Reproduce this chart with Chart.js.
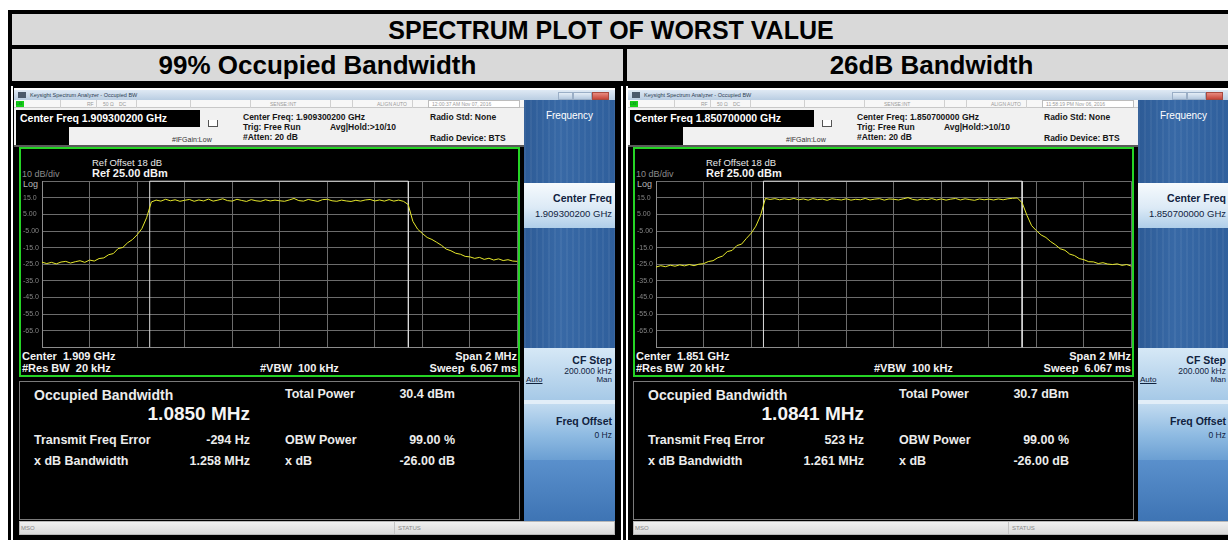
<!DOCTYPE html>
<html>
<head>
<meta charset="utf-8">
<title>Spectrum plot of worst value</title>
<script src="https://cdn.jsdelivr.net/npm/chart.js@4.4.1/dist/chart.umd.min.js"></script>
<style>
  * { box-sizing: border-box; }
  body { margin: 0; width: 1228px; height: 540px; overflow: hidden; background: #fff; position: relative;
         font-family: "Liberation Sans", Arial, sans-serif; }
  .a { position: absolute; white-space: pre; }
  .a b { display: block; }
  .hdr { background: #d9d9d9; font-weight: bold; color: #000; text-align: center; }
  .skDark { background: repeating-linear-gradient(90deg, rgba(255,255,255,0.05) 0 2px, rgba(0,0,0,0) 2px 6px),
                        linear-gradient(90deg, #2d5b96, #3869a6 40%, #2f5f9c); }
  .skLight { background: linear-gradient(#f6fafd, #dceaf6 55%, #afcee9); }
  .skStep { background: linear-gradient(#d6e8f6, #a6c9e7); }
  .skOff { background: linear-gradient(#c2dbf0, #8fbbe2 55%, #6b9fd3); }
  .skLow { background: linear-gradient(#5a90cc, #3e74b4); }
</style>
</head>
<body>
<script>
// Frequency offset from centre (MHz), span 2 MHz
const freqOffsets = [
  -1.00, -0.98, -0.96, -0.94, -0.92, -0.90, -0.88, -0.86, -0.84, -0.82,
  -0.80, -0.78, -0.76, -0.74, -0.72, -0.70, -0.68, -0.66, -0.64, -0.62,
  -0.60, -0.58, -0.56, -0.54, -0.52, -0.50, -0.48, -0.46, -0.44, -0.42,
  -0.40, -0.38, -0.36, -0.34, -0.32, -0.30, -0.28, -0.26, -0.24, -0.22,
  -0.20, -0.18, -0.16, -0.14, -0.12, -0.10, -0.08, -0.06, -0.04, -0.02,
   0.00,  0.02,  0.04,  0.06,  0.08,  0.10,  0.12,  0.14,  0.16,  0.18,
   0.20,  0.22,  0.24,  0.26,  0.28,  0.30,  0.32,  0.34,  0.36,  0.38,
   0.40,  0.42,  0.44,  0.46,  0.48,  0.50,  0.52,  0.54,  0.56,  0.58,
   0.60,  0.62,  0.64,  0.66,  0.68,  0.70,  0.72,  0.74,  0.76,  0.78,
   0.80,  0.82,  0.84,  0.86,  0.88,  0.90,  0.92,  0.94,  0.96,  0.98,
   1.00
];

// Trace levels (dBm) - 99% occupied bandwidth plot
const obwTraceLevels = [
  -23.8, -24.6, -23.9, -24.8, -23.7, -23.3, -24.3, -23.5, -22.9, -23.9,
  -22.5, -23.1, -21.6, -21.2, -19.3, -18.6, -15.6, -14.9, -12.1, -10.2,
   -7.3,  -3.6,   3.0,  12.5,  13.6,  13.0,  14.1,  13.2,  13.8,  12.9,
   13.5,  14.0,  12.9,  13.7,  13.1,  14.2,  13.0,  13.6,  14.4,  13.3,
   13.0,  14.1,  13.4,  12.8,  13.9,  13.2,  12.9,  13.8,  13.1,  13.6,
   13.2,  12.9,  13.7,  14.6,  13.3,  13.0,  14.0,  13.4,  12.8,  13.9,
   14.1,  13.2,  12.9,  13.6,  13.1,  12.8,  13.5,  13.0,  13.7,  14.0,
   13.1,  13.7,  13.0,  13.9,  13.0,  13.6,  12.9,  11.0,   0.8,  -3.9,
   -6.5,  -8.9, -10.1, -11.8, -13.6, -15.9, -16.9, -18.4, -19.0, -20.3,
  -20.6, -21.5, -20.9, -22.1, -21.4, -22.5, -21.8, -22.8, -22.3, -23.1,
  -23.3
];

// Trace levels (dBm) - 26 dB bandwidth plot
const xdbTraceLevels = [
  -26.7, -25.9, -26.5, -25.6, -26.2, -25.4, -26.0, -25.2, -25.9, -25.0,
  -24.7, -23.4, -22.9, -21.1, -20.1, -17.4, -16.7, -13.8, -12.9,  -9.5,
   -6.4,  -2.1,   4.4,  14.6,  14.0,  14.5,  13.8,  14.4,  13.9,  14.6,
   13.8,  14.3,  13.6,  14.5,  13.9,  14.2,  13.5,  14.4,  14.0,  13.7,
   14.4,  13.6,  14.1,  13.8,  14.6,  13.7,  14.2,  14.5,  13.6,  14.3,
   14.1,  13.7,  14.4,  15.1,  14.0,  13.6,  14.3,  13.8,  14.5,  13.7,
   14.3,  13.6,  14.2,  14.6,  13.7,  14.4,  13.9,  13.5,  14.3,  13.8,
   14.2,  13.7,  14.3,  13.8,  14.4,  14.7,  14.9,  12.0,   4.5,  -1.8,
   -4.8,  -7.4,  -8.9, -11.4, -13.3, -15.7, -16.6, -18.9, -19.8, -21.6,
  -22.3, -23.5, -23.6, -24.6, -24.1, -24.9, -25.2, -24.8, -25.7, -25.2,
  -26.2
];

// Occupied bandwidth gate edges (MHz from centre)
const obwGateEdges = [-0.547, 0.541];
const xdbGateEdges = [-0.548, 0.540];

// Amplitude axis: Ref 25 dBm, 10 dB/div, 10 divisions
const refLevel = 25;
const bottomLevel = -75;
const dbPerDiv = 10;

const screens = [
  { dx: 0, canvasId: 'plotObw', levels: obwTraceLevels, edges: obwGateEdges,
    time: '12:00:37 AM Nov 07, 2016', cf: '1.909300200 GHz', center: '1.909 GHz',
    obw: '1.0850 MHz', power: '30.4 dBm', err: '-294 Hz', xdbBw: '1.258 MHz' },
  { dx: 614, canvasId: 'plotXdb', levels: xdbTraceLevels, edges: xdbGateEdges,
    time: '11:58:19 PM Nov 06, 2016', cf: '1.850700000 GHz', center: '1.851 GHz',
    obw: '1.0841 MHz', power: '30.7 dBm', err: '523 Hz', xdbBw: '1.261 MHz' }
];

// graticule box inside each analyzer window (page px, left window)
const plotBox = { left: 42, top: 181, right: 518, bottom: 347 };

function box(parent, x, y, w, h, css, text) {
  const d = document.createElement('div');
  d.className = 'a';
  d.style.cssText += `left:${x}px;top:${y}px;` + (w ? `width:${w}px;` : '') + (h ? `height:${h}px;` : '') + (css || '');
  if (text !== undefined) d.textContent = text;
  parent.appendChild(d);
  return d;
}

// table frame
box(document.body, 8, 10, 1220, 530, 'background:#000;');
box(document.body, 12, 14, 1216, 31, 'background:#d9d9d9;');
box(document.body, 12, 14, 1198, 31, 'font-size:25px;line-height:32px;', 'SPECTRUM PLOT OF WORST VALUE').classList.add('hdr');
box(document.body, 12, 49, 611, 32, 'font-size:26px;line-height:33px;', '99% Occupied Bandwidth').classList.add('hdr');
box(document.body, 627, 49, 601, 32, 'font-size:26px;line-height:33px;padding-left:8px;', '26dB Bandwidth').classList.add('hdr');
box(document.body, 11, 86, 2, 454, 'background:#fff;');
box(document.body, 621, 86, 2, 454, 'background:#fff;');
box(document.body, 626, 86, 2, 454, 'background:#fff;');

function buildScreen(s) {
  const w = document.createElement('div');
  w.className = 'a';
  w.style.cssText += `left:${s.dx}px;top:0;`;
  document.body.appendChild(w);

  box(w, 14, 88, 601, 452, 'background:#000;');
  box(w, 14, 88, 601, 2, 'background:#fff;');
  // window title bar
  box(w, 14, 90, 601, 10, 'background:linear-gradient(#dfe9f4,#b9cde2);');
  box(w, 18, 92, 8, 6, 'background:#4b5a6c;');
  box(w, 30, 90, 0, 10, 'font-size:5.5px;line-height:10px;color:#2d3d52;', 'Keysight Spectrum Analyzer - Occupied BW');
  box(w, 558, 92, 15, 8, 'background:linear-gradient(#e4edf6,#b4c8de);border:1px solid #9aaec6;');
  box(w, 573, 92, 19, 8, 'background:linear-gradient(#e4edf6,#b4c8de);border:1px solid #9aaec6;');
  box(w, 592, 92, 17, 8, 'background:linear-gradient(#e88a7f,#c5473b);border:1px solid #a84a40;');

  // status row
  box(w, 14, 100, 510, 8, 'background:#f7f7f7;border-bottom:1px solid #c8c8c8;');
  box(w, 16, 101, 8, 6, 'background:#16cf16;font-size:4px;line-height:6px;color:#063;', 'LXI');
  const st = 'font-size:5px;line-height:8px;color:#9a9a9a;';
  [60, 96, 136, 190, 250, 330, 352, 412].forEach(x => box(w, x, 100, 1, 8, 'background:#d0d0d0;'));
  box(w, 87, 100, 0, 8, st, 'RF');
  box(w, 103, 100, 0, 8, st, '50 Ω');
  box(w, 119, 100, 0, 8, st, 'DC');
  box(w, 270, 100, 0, 8, st, 'SENSE:INT');
  box(w, 377, 100, 0, 8, st, 'ALIGN AUTO');
  box(w, 428, 100, 92, 8, st + 'background:#fff;border:1px solid #bdbdbd;padding-left:3px;line-height:6px;', s.time);

  // measurement header
  box(w, 14, 108, 510, 37, 'background:#f1f1f1;');
  box(w, 16, 110, 184, 17, 'background:#000;color:#fff;font-weight:bold;font-size:10.5px;line-height:17px;padding-left:4px;',
      'Center Freq ' + s.cf);
  box(w, 16, 127, 53, 18, 'background:#000;');
  box(w, 208, 120, 10, 7, 'border:1px solid #555;border-top:none;background:#fff;');
  const hd = 'font-weight:bold;font-size:8.5px;line-height:10px;color:#161616;';
  box(w, 243, 112, 0, 10, hd, 'Center Freq: ' + s.cf);
  box(w, 243, 122, 0, 10, hd, 'Trig: Free Run');
  box(w, 330, 122, 0, 10, hd, 'Avg|Hold:>10/10');
  box(w, 243, 132, 0, 10, hd, '#Atten: 20 dB');
  box(w, 172, 135, 0, 10, 'font-size:7px;line-height:10px;color:#333;', '#IFGain:Low');
  box(w, 430, 112, 0, 10, hd, 'Radio Std: None');
  box(w, 430, 133, 0, 10, hd, 'Radio Device: BTS');
  box(w, 14, 145, 510, 2, 'background:#5a5a5a;');

  // graticule window
  box(w, 19, 147, 501, 230, 'background:#000;border:2px solid #25d425;');
  box(w, 92, 158, 0, 10, 'font-size:9.5px;line-height:10px;color:#e8e8e8;', 'Ref Offset 18 dB');
  box(w, 92, 167, 0, 12, 'font-size:11px;font-weight:bold;line-height:12px;color:#f4f4f4;', 'Ref 25.00 dBm');
  box(w, 22, 169, 0, 10, 'font-size:9px;line-height:10px;color:#8c8c8c;', '10 dB/div');
  box(w, 23, 179, 0, 10, 'font-size:9px;line-height:10px;color:#b4b4b4;', 'Log');
  const bl = 'font-size:11px;font-weight:bold;line-height:12px;color:#f2f2f2;';
  box(w, 22, 350, 0, 12, bl, 'Center  ' + s.center);
  box(w, 300, 350, 217, 12, bl + 'text-align:right;', 'Span 2 MHz');
  box(w, 22, 362, 0, 12, bl, '#Res BW  20 kHz');
  box(w, 260, 362, 0, 12, bl, '#VBW  100 kHz');
  box(w, 300, 362, 217, 12, bl + 'text-align:right;', 'Sweep  6.067 ms');

  const cv = document.createElement('canvas');
  cv.id = s.canvasId;
  cv.width = 500; cv.height = 176;
  cv.style.cssText = 'position:absolute;left:20px;top:176px;';
  w.appendChild(cv);

  // result panel
  box(w, 19, 381, 501, 139, 'background:#000;border:1px solid #7a7a7a;');
  const rl = 'font-weight:bold;font-size:12.5px;line-height:14px;color:#ececec;';
  box(w, 34, 387, 0, 16, 'font-weight:bold;font-size:14px;line-height:16px;color:#ececec;', 'Occupied Bandwidth');
  box(w, 100, 403, 150, 22, 'font-weight:bold;font-size:19px;line-height:22px;color:#f4f4f4;text-align:right;', s.obw);
  box(w, 285, 387, 0, 14, rl, 'Total Power');
  box(w, 360, 387, 95, 14, rl + 'text-align:right;', s.power);
  box(w, 34, 433, 0, 14, rl, 'Transmit Freq Error');
  box(w, 150, 433, 100, 14, rl + 'text-align:right;', s.err);
  box(w, 285, 433, 0, 14, rl, 'OBW Power');
  box(w, 360, 433, 95, 14, rl + 'text-align:right;', '99.00 %');
  box(w, 34, 454, 0, 14, rl, 'x dB Bandwidth');
  box(w, 150, 454, 100, 14, rl + 'text-align:right;', s.xdbBw);
  box(w, 285, 454, 0, 14, rl, 'x dB');
  box(w, 360, 454, 95, 14, rl + 'text-align:right;', '-26.00 dB');

  // status bar
  box(w, 19, 521, 596, 14, 'background:linear-gradient(#f0f0f0,#dadada);border:1px solid #b8b8b8;');
  box(w, 21, 521, 0, 14, 'font-size:6px;line-height:14px;color:#8a8a8a;', 'MSO');
  box(w, 394, 522, 1, 12, 'background:#c4c4c4;');
  box(w, 398, 521, 0, 14, 'font-size:6px;line-height:14px;color:#8a8a8a;', 'STATUS');

  // softkeys
  box(w, 524, 100, 91, 83, 'color:#fff;font-size:10px;text-align:center;padding-top:10px;', 'Frequency').classList.add('skDark');
  const k1 = box(w, 524, 183, 91, 45, 'text-align:right;padding:8px 3px 0 0;color:#10223e;font-size:9.5px;line-height:15px;');
  k1.classList.add('skLight');
  k1.innerHTML = '<b style="font-size:10.5px">Center Freq</b>' + s.cf;
  box(w, 524, 228, 91, 120, '').classList.add('skDark');
  const k2 = box(w, 524, 348, 91, 52, 'text-align:right;padding:6px 3px 0 0;color:#10223e;font-size:8.5px;line-height:9px;');
  k2.classList.add('skStep');
  k2.innerHTML = '<b style="font-size:10.5px;line-height:13px">CF Step</b>200.000 kHz';
  box(w, 526, 375, 0, 10, 'font-size:8px;line-height:10px;color:#10223e;text-decoration:underline;', 'Auto');
  box(w, 560, 375, 52, 10, 'font-size:8px;line-height:10px;color:#10223e;text-align:right;', 'Man');
  box(w, 524, 400, 91, 4, 'background:#e2eef8;');
  const k3 = box(w, 524, 404, 91, 56, 'text-align:right;padding:10px 3px 0 0;color:#10223e;font-size:8.5px;line-height:14px;');
  k3.classList.add('skOff');
  k3.innerHTML = '<b style="font-size:10.5px">Freq Offset</b>0 Hz';
  box(w, 524, 460, 91, 61, '').classList.add('skLow');
}

function fmtLevel(v) {
  if (v === refLevel || v === bottomLevel) return '';
  return Math.abs(v) < 10 ? v.toFixed(2) : v.toFixed(1);
}

function createSpectrumChart(canvasId, levels, edges) {
  const ctx = document.getElementById(canvasId);
  if (!ctx) return null;

  return new Chart(ctx, {
    type: 'line',
    data: {
      datasets: [{
        data: freqOffsets.map((f, i) => ({ x: f, y: levels[i] })),
        borderColor: 'rgb(230, 232, 44)',
        borderWidth: 1,
        pointRadius: 0,
        tension: 0
      }, {
        // OBW gate markers
        data: [
          { x: edges[0], y: bottomLevel }, { x: edges[0], y: refLevel },
          { x: edges[1], y: refLevel }, { x: edges[1], y: bottomLevel }
        ],
        borderColor: '#dcdcdc',
        borderWidth: 1,
        pointRadius: 0,
        clip: 2
      }]
    },
    options: {
      responsive: false,
      maintainAspectRatio: false,
      animation: false,
      layout: { padding: { left: 3, top: 0, right: 0, bottom: 0 } },
      plugins: {
        legend: { display: false },
        tooltip: { enabled: false }
      },
      scales: {
        x: {
          type: 'linear',
          min: -1, max: 1,
          ticks: { display: false, stepSize: 0.2 },
          grid: { color: '#6c6c6c', drawTicks: false },
          border: { color: '#8c8c8c' }
        },
        y: {
          min: bottomLevel, max: refLevel,
          ticks: {
            stepSize: dbPerDiv,
            color: '#858585',
            font: { size: 7, family: '"Liberation Sans", Arial, sans-serif' },
            crossAlign: 'far',
            callback: fmtLevel
          },
          grid: { color: '#6c6c6c', drawTicks: false },
          border: { color: '#8c8c8c' },
          afterFit: scale => { scale.width = 19; }
        }
      }
    }
  });
}

// move/resize the canvas so the graticule lands on the screenshot's grid box
function alignPlotArea(chart, target) {
  const ca = chart.chartArea;
  const insL = ca.left, insT = ca.top;
  const insR = chart.width - ca.right, insB = chart.height - ca.bottom;
  const w = target.right - target.left + insL + insR;
  const h = target.bottom - target.top + insT + insB;
  chart.resize(w, h);
  chart.canvas.style.left = (target.left - insL) + 'px';
  chart.canvas.style.top = (target.top - insT) + 'px';
}

screens.forEach(s => {
  buildScreen(s);
  const chart = createSpectrumChart(s.canvasId, s.levels, s.edges);
  if (chart) alignPlotArea(chart, plotBox);
});
</script>
</body>
</html>
